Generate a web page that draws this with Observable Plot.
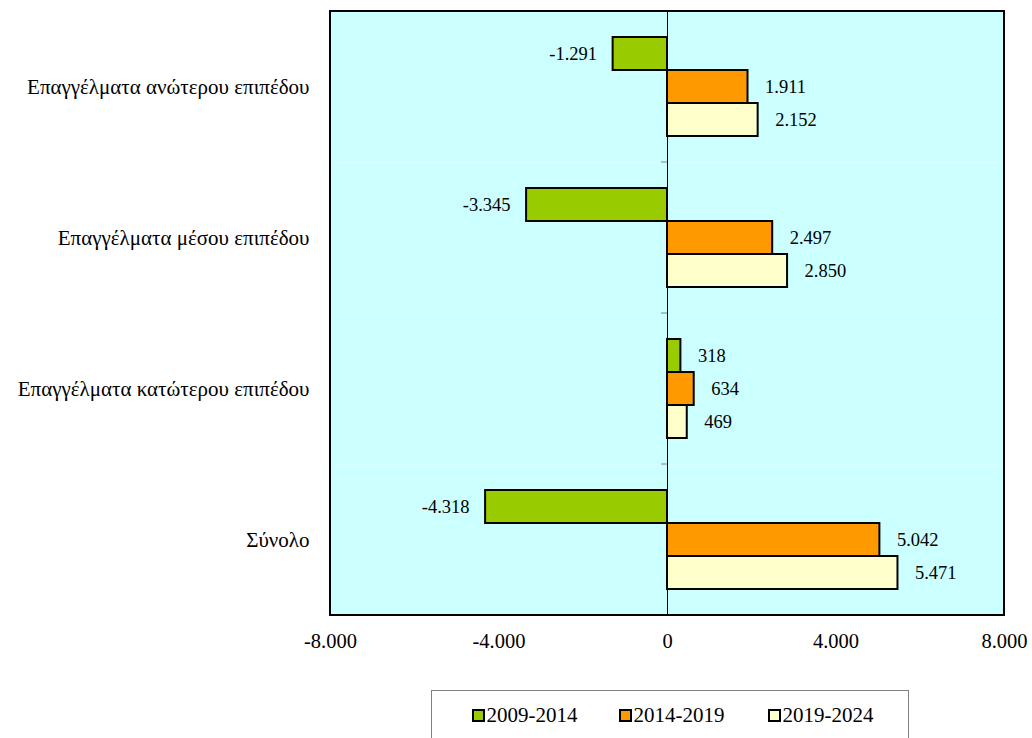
<!DOCTYPE html>
<html><head><meta charset="utf-8">
<script src="https://cdn.jsdelivr.net/npm/d3@7"></script>
<script src="https://cdn.jsdelivr.net/npm/@observablehq/plot@0.6"></script>
<style>
body{margin:0;background:#fff;}
#wrap{position:relative;width:1032px;height:738px;overflow:hidden;font-family:'Liberation Serif';}
#legend{position:absolute;left:431px;top:690px;width:478px;height:60px;border:1px solid #808080;box-sizing:border-box;font-family:'Liberation Serif';font-size:21px;color:#000;}
.item{position:absolute;top:12px;display:flex;align-items:center;white-space:nowrap;font-family:'Liberation Serif';line-height:1.2;}
.sw{width:12.5px;height:12.5px;border:2px solid #000;box-sizing:border-box;margin-right:2px;}
</style></head><body><div id="wrap"><div id="chart"></div><div id="legend"></div></div>
<script>
const categories = ["Επαγγέλματα ανώτερου επιπέδου","Επαγγέλματα μέσου επιπέδου","Επαγγέλματα κατώτερου επιπέδου","Σύνολο"];
const periods = ["2009-2014","2014-2019","2019-2024"];
const values2009_2014 = [-1291,-3345,318,-4318];
const values2014_2019 = [1911,2497,634,5042];
const values2019_2024 = [2152,2850,469,5471];
const colors = ["#99CC00","#FF9900","#FFFFCC"];
const xTicks = [-8000,-4000,0,4000,8000];

const data = [];
[values2009_2014, values2014_2019, values2019_2024].forEach((arr, j) =>
  arr.forEach((v, i) => data.push({category: categories[i], period: periods[j], value: v})));

const fmt = d => d3.format(",")(d).replace(/,/g, ".").replace(/\u2212/g, "-");
const FF = "Liberation Serif";

const W = 1032, H = 662, mL = 330, mR = 28, mT = 10, mB = 47;
const plot = Plot.plot({
  width: W, height: H, marginLeft: mL, marginRight: mR, marginTop: mT, marginBottom: mB,
  style: {fontFamily: FF, fontSize: "16px", background: "transparent", color: "#000"},
  x: {domain: [-8000, 8000], label: null},
  fy: {domain: categories, padding: 0, label: null},
  y: {domain: periods, axis: null, paddingInner: 0, paddingOuter: 0.745},
  color: {domain: periods, range: colors},
  marks: [
    Plot.frame({fill: "#CCFFFF", stroke: null}),
    Plot.ruleX([0], {stroke: "#000", strokeWidth: 1}),
    Plot.barX(data, {fy: "category", y: "period", x: "value", fill: "period", stroke: "#000", strokeWidth: 2}),
    Plot.text(data.filter(d => d.value < 0), {fy: "category", y: "period", x: "value", text: d => fmt(d.value), textAnchor: "end", dx: -16, fontSize: 18.5, fontFamily: FF, fill: "#000"}),
    Plot.text(data.filter(d => d.value >= 0), {fy: "category", y: "period", x: "value", text: d => fmt(d.value), textAnchor: "start", dx: 17, fontSize: 18.5, fontFamily: FF, fill: "#000"}),
    Plot.axisX({ticks: xTicks, tickFormat: fmt, tickSize: 0, tickPadding: 18, fontSize: 20.5, fontFamily: FF, label: null, fill: "#000"}),
    Plot.axisFy({anchor: "left", tickSize: 0, tickPadding: 21, fontSize: 21, fontFamily: FF, label: null, fill: "#000"})
  ]
});
document.getElementById("chart").appendChild(plot);

const svg = d3.select(plot);
svg.selectAll("text").style("font-family", FF);
const xs = plot.scale("x"), fys = plot.scale("fy");
const x0 = xs.apply(0), xa = xs.apply(-8000), xb = xs.apply(8000);
const yTop = fys.apply(categories[0]);
const yBot = fys.apply(categories[categories.length - 1]) + fys.bandwidth;
categories.slice(1).forEach(c => {
  const yy = fys.apply(c);
  svg.append("line").attr("x1", x0 - 6).attr("x2", x0).attr("y1", yy).attr("y2", yy).attr("stroke", "#808080").attr("stroke-width", 1);
});
svg.append("rect").attr("x", xa).attr("y", yTop).attr("width", xb - xa).attr("height", yBot - yTop)
  .attr("fill", "none").attr("stroke", "#000").attr("stroke-width", 2);

const legend = d3.select("#legend");
const lefts = [40, 187, 336];
periods.forEach((p, i) => {
  const it = legend.append("div").attr("class", "item").style("left", lefts[i] + "px");
  it.append("div").attr("class", "sw").style("background", colors[i]);
  it.append("span").style("font-family", FF).text(p);
});
</script></body></html>
